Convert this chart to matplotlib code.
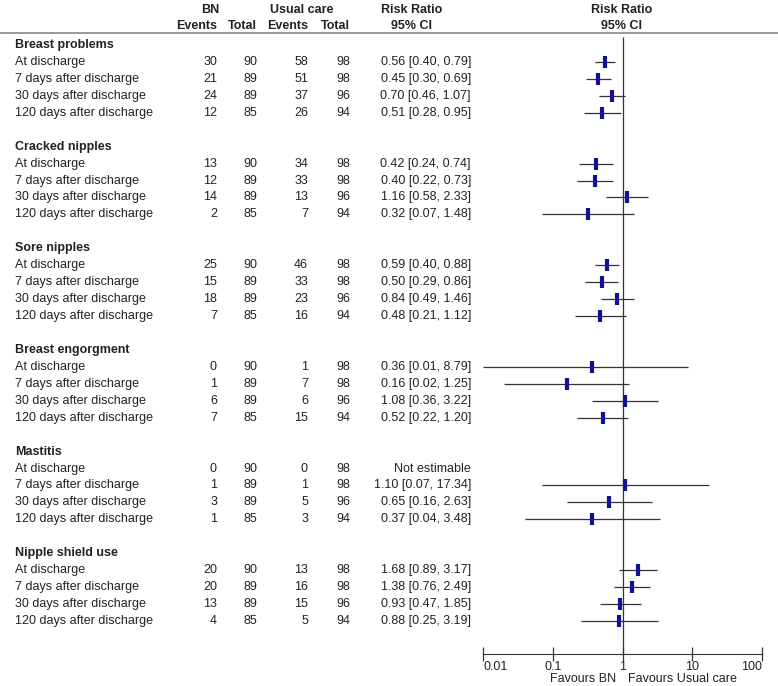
import numpy as np
import matplotlib.pyplot as plt

plt.rcParams['font.family'] = ['Liberation Sans', 'DejaVu Sans']
plt.rcParams['font.size'] = 9

# data
groups = ["Breast problems", "Cracked nipples", "Sore nipples",
          "Breast engorgment", "Mastitis", "Nipple shield use"]
times = ["At discharge", "7 days after discharge",
         "30 days after discharge", "120 days after discharge"]

bn_events = [30, 21, 24, 12, 13, 12, 14, 2, 25, 15, 18, 7,
             0, 1, 6, 7, 0, 1, 3, 1, 20, 20, 13, 4]
bn_total = [90, 89, 89, 85] * 6
uc_events = [58, 51, 37, 26, 34, 33, 13, 7, 46, 33, 23, 16,
             1, 7, 6, 15, 0, 1, 5, 3, 13, 16, 15, 5]
uc_total = [98, 98, 96, 94] * 6

rr = [0.56, 0.45, 0.70, 0.51, 0.42, 0.40, 1.16, 0.32, 0.59, 0.50, 0.84, 0.48,
      0.36, 0.16, 1.08, 0.52, np.nan, 1.10, 0.65, 0.37, 1.68, 1.38, 0.93, 0.88]
rr_lo = [0.40, 0.30, 0.46, 0.28, 0.24, 0.22, 0.58, 0.07, 0.40, 0.29, 0.49, 0.21,
         0.01, 0.02, 0.36, 0.22, np.nan, 0.07, 0.16, 0.04, 0.89, 0.76, 0.47, 0.25]
rr_hi = [0.79, 0.69, 1.07, 0.95, 0.74, 0.73, 2.33, 1.48, 0.88, 0.86, 1.46, 1.12,
         8.79, 1.25, 3.22, 1.20, np.nan, 17.34, 2.63, 3.48, 3.17, 2.49, 1.85, 3.19]

ticks = [0.01, 0.1, 1, 10, 100]
tick_labels = ["0.01", "0.1", "1", "10", "100"]

# layout (pixels from top)
W, H = 778, 686
row0 = 45.0
step = 16.94
axis_y = 654.0
txt = '#222222'

fig = plt.figure(figsize=(W / 100, H / 100), dpi=100)

tab = fig.add_axes([0, 0, 1, 1])
tab.set_xlim(0, W)
tab.set_ylim(H, 0)
tab.axis('off')

ax = fig.add_axes([483 / W, 0, 279 / W, 1])
ax.set_ylim(H, 0)
ax.set_xscale('log')
ax.set_xlim(0.01, 100)
ax.patch.set_alpha(0)

# headers
tab.text(210, 10, "BN", ha='center', va='center', fontweight='bold', color=txt)
tab.text(302, 10, "Usual care", ha='center', va='center', fontweight='bold', color=txt)
tab.text(412, 10, "Risk Ratio", ha='center', va='center', fontweight='bold', color=txt)
tab.text(622, 10, "Risk Ratio", ha='center', va='center', fontweight='bold', color=txt)
for x, s in [(217, "Events"), (257, "Total"), (308, "Events"), (350, "Total")]:
    tab.text(x, 26, s, ha='right', va='center', fontweight='bold', color=txt)
tab.text(412, 26, "95% CI", ha='center', va='center', fontweight='bold', color=txt)
tab.text(622, 26, "95% CI", ha='center', va='center', fontweight='bold', color=txt)
tab.axhline(32.5, color='#999999', lw=1.4)

ys = []
k = 0
for g, name in enumerate(groups):
    yg = row0 + step * 6 * g
    tab.text(15, yg, name, ha='left', va='center', fontweight='bold', color=txt)
    for t, tname in enumerate(times):
        y = yg + step * (t + 1)
        ys.append(y)
        tab.text(15, y, tname, ha='left', va='center', color=txt)
        tab.text(217, y, str(bn_events[k]), ha='right', va='center', color=txt)
        tab.text(257, y, str(bn_total[k]), ha='right', va='center', color=txt)
        tab.text(308, y, str(uc_events[k]), ha='right', va='center', color=txt)
        tab.text(350, y, str(uc_total[k]), ha='right', va='center', color=txt)
        if np.isnan(rr[k]):
            s = "Not estimable"
        else:
            s = f"{rr[k]:.2f} [{rr_lo[k]:.2f}, {rr_hi[k]:.2f}]"
        tab.text(471, y, s, ha='right', va='center', color=txt)
        k += 1

ys = np.array(ys)
rr = np.array(rr)
ok = ~np.isnan(rr)

# forest
ax.vlines(1, 37, axis_y, color='#333333', lw=0.9)
ax.hlines(ys[ok], np.array(rr_lo)[ok], np.array(rr_hi)[ok], color='#333333', lw=0.9)
ax.plot(rr[ok], ys[ok], ls='none', marker='|', ms=9, mew=3, color='#10109a')

for sp in ['top', 'left', 'right']:
    ax.spines[sp].set_visible(False)
ax.spines['bottom'].set_position(('data', axis_y))
ax.spines['bottom'].set_color('#333333')
ax.set_yticks([])
ax.set_xticks(ticks)
ax.set_xticklabels(tick_labels)
ax.minorticks_off()
ax.tick_params(axis='x', direction='inout', length=10, width=0.9, pad=0,
               colors='#333333', labelcolor=txt)
lbls = ax.get_xticklabels()
lbls[0].set_ha('left')
lbls[-1].set_ha('right')

tab.text(616, 679, "Favours BN", ha='right', va='center', color=txt)
tab.text(628, 679, "Favours Usual care", ha='left', va='center', color=txt)

fig.savefig("out.png", dpi=100)
